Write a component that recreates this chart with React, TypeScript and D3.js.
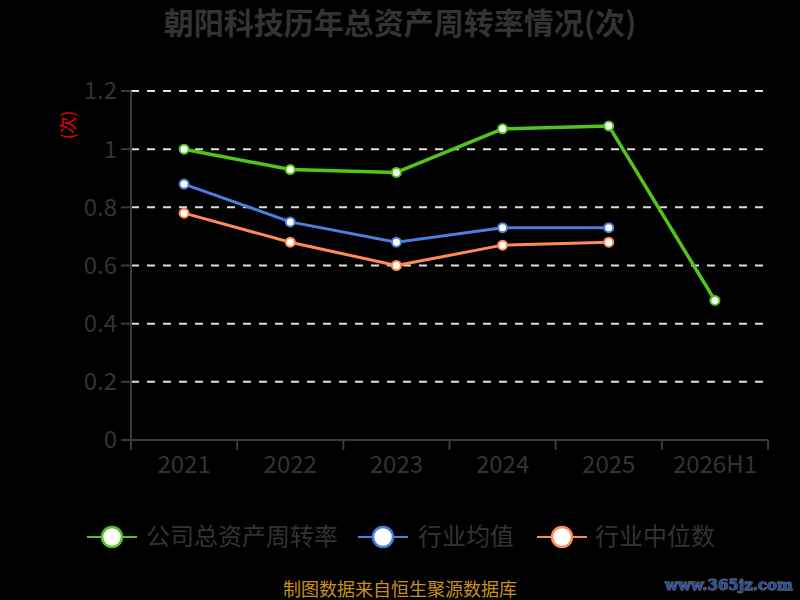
import React from "react";
import * as d3 from "d3";

const categories = ["2021", "2022", "2023", "2024", "2025", "2026H1"];
const companyTurnover = [1.0, 0.93, 0.92, 1.07, 1.08, 0.48];
const industryMean = [0.88, 0.75, 0.68, 0.73, 0.73, null];
const industryMedian = [0.78, 0.68, 0.6, 0.67, 0.68, null];
const yTicks = [0, 0.2, 0.4, 0.6, 0.8, 1, 1.2];
const seriesNames = ["公司总资产周转率", "行业均值", "行业中位数"];
const seriesColors = ["#52c41a", "#4a7fe0", "#ff8a55"];

const W = 800;
const H = 600;
const margin = { left: 131, right: 32, top: 91, bottom: 160 };
const FONT = "'Noto Sans CJK SC', 'Noto Sans', sans-serif";

export default function App() {
  const x = d3
    .scaleBand<string>()
    .domain(categories)
    .range([margin.left, W - margin.right]);
  const y = d3.scaleLinear().domain([0, 1.2]).range([H - margin.bottom, margin.top]);
  const cx = (c: string) => (x(c) as number) + x.bandwidth() / 2;

  const series = [companyTurnover, industryMean, industryMedian];
  const line = d3
    .line<{ c: string; v: number | null }>()
    .defined((d) => d.v !== null)
    .x((d) => cx(d.c))
    .y((d) => y(d.v as number));

  const axisColor = "#3a3a3a";
  const textColor = "#333333";

  const legendItems = [
    { x: 87, tx: 146 },
    { x: 358, tx: 418 },
    { x: 537, tx: 595 },
  ];

  return (
    <svg
      width={W}
      height={H}
      style={{ position: "absolute", left: 0, top: 0, background: "#000" }}
    >
      <rect x={0} y={0} width={W} height={H} fill="#000" />
      <text
        x={400}
        y={34}
        textAnchor="middle"
        fontFamily={FONT}
        fontWeight="bold"
        fontSize={30}
        fill={textColor}
      >
        朝阳科技历年总资产周转率情况(次)
      </text>

      {/* grid */}
      {yTicks
        .filter((t) => t !== 0)
        .map((t) => (
          <line
            key={"g" + t}
            x1={margin.left}
            x2={W - margin.right}
            y1={y(t)}
            y2={y(t)}
            stroke="#dddddd"
            strokeWidth={2}
            strokeDasharray="8,8"
          />
        ))}

      {/* y axis */}
      <line
        x1={margin.left}
        x2={margin.left}
        y1={y(1.2)}
        y2={y(0)}
        stroke={axisColor}
        strokeWidth={2}
      />
      {yTicks.map((t) => (
        <g key={"yt" + t}>
          <line
            x1={margin.left - 10}
            x2={margin.left}
            y1={y(t)}
            y2={y(t)}
            stroke={axisColor}
            strokeWidth={2}
          />
          <text
            x={margin.left - 14}
            y={y(t)}
            dy="0.35em"
            textAnchor="end"
            fontFamily={FONT}
            fontSize={24}
            fill={textColor}
          >
            {String(t)}
          </text>
        </g>
      ))}
      <text
        transform={`translate(68,125) rotate(-90)`}
        textAnchor="middle"
        dy="0.35em"
        fontFamily={FONT}
        fontSize={17}
        fill="#ff0000"
      >
        (次)
      </text>

      {/* x axis */}
      <line
        x1={margin.left}
        x2={W - margin.right}
        y1={y(0)}
        y2={y(0)}
        stroke={axisColor}
        strokeWidth={2}
      />
      {categories.map((c) => (
        <line
          key={"xt" + c}
          x1={x(c) as number}
          x2={x(c) as number}
          y1={y(0)}
          y2={y(0) + 10}
          stroke={axisColor}
          strokeWidth={2}
        />
      ))}
      <line
        x1={W - margin.right}
        x2={W - margin.right}
        y1={y(0)}
        y2={y(0) + 10}
        stroke={axisColor}
        strokeWidth={2}
      />
      {categories.map((c) => (
        <text
          key={"xl" + c}
          x={cx(c)}
          y={y(0) + 33}
          textAnchor="middle"
          fontFamily={FONT}
          fontSize={24}
          fill={textColor}
        >
          {c}
        </text>
      ))}

      {/* series */}
      {series.map((s, i) => {
        const data = categories.map((c, k) => ({ c, v: s[k] as number | null }));
        return (
          <g key={"s" + i}>
            <path
              d={line(data) as string}
              fill="none"
              stroke={seriesColors[i]}
              strokeWidth={i === 0 ? 3.5 : 3}
              strokeLinejoin="round"
            />
            {data
              .filter((d) => d.v !== null)
              .map((d) => (
                <circle
                  key={d.c}
                  cx={cx(d.c)}
                  cy={y(d.v as number)}
                  r={4.5}
                  fill="#fff"
                  stroke={seriesColors[i]}
                  strokeWidth={2}
                />
              ))}
          </g>
        );
      })}

      {/* legend */}
      {seriesNames.map((n, i) => {
        const lx = legendItems[i].x;
        return (
          <g key={"lg" + i}>
            <line
              x1={lx}
              x2={lx + 50}
              y1={537}
              y2={537}
              stroke={seriesColors[i]}
              strokeWidth={2}
            />
            <circle
              cx={lx + 25}
              cy={537}
              r={10}
              fill="#fff"
              stroke={seriesColors[i]}
              strokeWidth={2.5}
            />
            <text
              x={legendItems[i].tx}
              y={537}
              dy="0.35em"
              fontFamily={FONT}
              fontSize={24}
              fill={textColor}
            >
              {n}
            </text>
          </g>
        );
      })}

      <text
        x={400}
        y={590}
        textAnchor="middle"
        dy="0.35em"
        fontFamily={FONT}
        fontSize={18}
        fill="#c8901e"
      >
        制图数据来自恒生聚源数据库
      </text>
      <text
        x={793}
        y={585}
        textAnchor="end"
        dy="0.35em"
        fontFamily="'DejaVu Serif', serif"
        fontWeight="bold"
        fontSize={15}
        fill="#2a4d9e"
        stroke="#888"
        strokeWidth={0.8}
        paintOrder="stroke"
      >
        www.365jz.com
      </text>
    </svg>
  );
}
